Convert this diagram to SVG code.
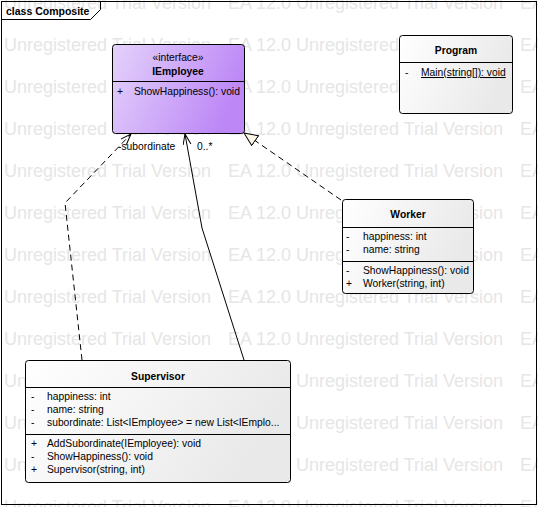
<svg xmlns="http://www.w3.org/2000/svg" width="538" height="507" viewBox="0 0 538 507">
<style>
text{font-family:"Liberation Sans",Arial,sans-serif;font-size:10.3px;fill:#000}
.wm{font-size:18px;fill:#e6e6e6}
.b{font-weight:bold}
.c{text-anchor:middle}
.box{stroke:#000;stroke-width:1}
.ln{stroke:#000;stroke-width:1;fill:none}
.dash{stroke-dasharray:6,4}
</style>
<defs>
<linearGradient id="gPurple" x1="0" y1="0" x2="1" y2="0.3">
<stop offset="0" stop-color="#e4d2fb"/>
<stop offset="1" stop-color="#bd88f6"/>
</linearGradient>
<linearGradient id="gGray" x1="0" y1="0" x2="1" y2="0.3">
<stop offset="0" stop-color="#ffffff"/>
<stop offset="1" stop-color="#e9e9e9"/>
</linearGradient>
<marker id="open" markerWidth="12" markerHeight="10" refX="11" refY="4" orient="auto" markerUnits="userSpaceOnUse">
<path d="M0,0 L11,4 L0,8" fill="none" stroke="#000" stroke-width="1"/>
</marker>
<marker id="tri" markerWidth="16" markerHeight="14" refX="14" refY="6.5" orient="auto" markerUnits="userSpaceOnUse">
<path d="M0.5,0.5 L14,6.5 L0.5,12.5 z" fill="#fdf6e6" stroke="#000" stroke-width="1"/>
</marker>
</defs>
<rect width="538" height="507" fill="#fff"/>
<g id="watermark">
<g id="wmrow">
<text class="wm" x="4" y="9">Unregistered Trial Version</text><text class="wm" x="228" y="9">EA 12.0</text><text class="wm" x="296" y="9">Unregistered Trial Version</text><text class="wm" x="520" y="9">EA 12.0</text>
</g>
<use href="#wmrow" y="42"/><use href="#wmrow" y="84"/><use href="#wmrow" y="126"/><use href="#wmrow" y="168"/><use href="#wmrow" y="210"/><use href="#wmrow" y="252"/><use href="#wmrow" y="294"/><use href="#wmrow" y="336"/><use href="#wmrow" y="378"/><use href="#wmrow" y="420"/><use href="#wmrow" y="462"/><use href="#wmrow" y="504"/>
</g>
<g id="frame">
<rect x="1.5" y="1.5" width="535" height="503" class="ln"/>
<path d="M1.5,19.5 H90.5 L100.5,9.5 V1.5" class="ln"/>
<text class="b" x="6" y="15" style="font-size:10.5px">class Composite</text>
</g>
<g id="connectors">
<path d="M82,360 L65,203 L131,134" class="ln dash" marker-end="url(#open)"/>
<path d="M244,360 L202,228 L185,134" class="ln" marker-end="url(#open)"/>
<path d="M341,200 L244,133" class="ln dash" marker-end="url(#tri)"/>
<text x="118" y="150">-subordinate</text>
<text x="197" y="150">0..*</text>
</g>
<g id="IEmployee">
<rect x="112.5" y="44.5" width="132" height="89" rx="3" fill="url(#gPurple)" class="box"/>
<line x1="112.5" y1="81.5" x2="244.5" y2="81.5" class="ln"/>
<text class="c" x="178" y="61">«interface»</text>
<text class="c b" x="178" y="75">IEmployee</text>
<text x="117" y="95">+</text>
<text x="134" y="95">ShowHappiness(): void</text>
</g>
<g id="Program">
<rect x="399.5" y="35.5" width="113" height="78" rx="3" fill="url(#gGray)" class="box"/>
<line x1="399.5" y1="62.5" x2="512.5" y2="62.5" class="ln"/>
<text class="c b" x="456" y="54">Program</text>
<text x="405" y="76">-</text>
<text x="421" y="76" text-decoration="underline">Main(string[]): void</text>
</g>
<g id="Worker">
<rect x="342.5" y="199.5" width="131" height="94" rx="3" fill="url(#gGray)" class="box"/>
<line x1="342.5" y1="227.5" x2="473.5" y2="227.5" class="ln"/>
<line x1="342.5" y1="261.5" x2="473.5" y2="261.5" class="ln"/>
<text class="c b" x="408" y="218">Worker</text>
<text x="346" y="240">-</text><text x="363" y="240">happiness: int</text>
<text x="346" y="253">-</text><text x="363" y="253">name: string</text>
<text x="346" y="274">-</text><text x="363" y="274">ShowHappiness(): void</text>
<text x="346" y="287">+</text><text x="363" y="287">Worker(string, int)</text>
</g>
<g id="Supervisor">
<rect x="25.5" y="360.5" width="265" height="122" rx="3" fill="url(#gGray)" class="box"/>
<line x1="25.5" y1="387.5" x2="290.5" y2="387.5" class="ln"/>
<line x1="25.5" y1="434.5" x2="290.5" y2="434.5" class="ln"/>
<text class="c b" x="158" y="380">Supervisor</text>
<text x="31" y="400">-</text><text x="47" y="400">happiness: int</text>
<text x="31" y="413">-</text><text x="47" y="413">name: string</text>
<text x="31" y="426">-</text><text x="47" y="426">subordinate: List&lt;IEmployee&gt; = new List&lt;IEmplo...</text>
<text x="31" y="447">+</text><text x="47" y="447">AddSubordinate(IEmployee): void</text>
<text x="31" y="460">-</text><text x="47" y="460">ShowHappiness(): void</text>
<text x="31" y="473">+</text><text x="47" y="473">Supervisor(string, int)</text>
</g>
</svg>
